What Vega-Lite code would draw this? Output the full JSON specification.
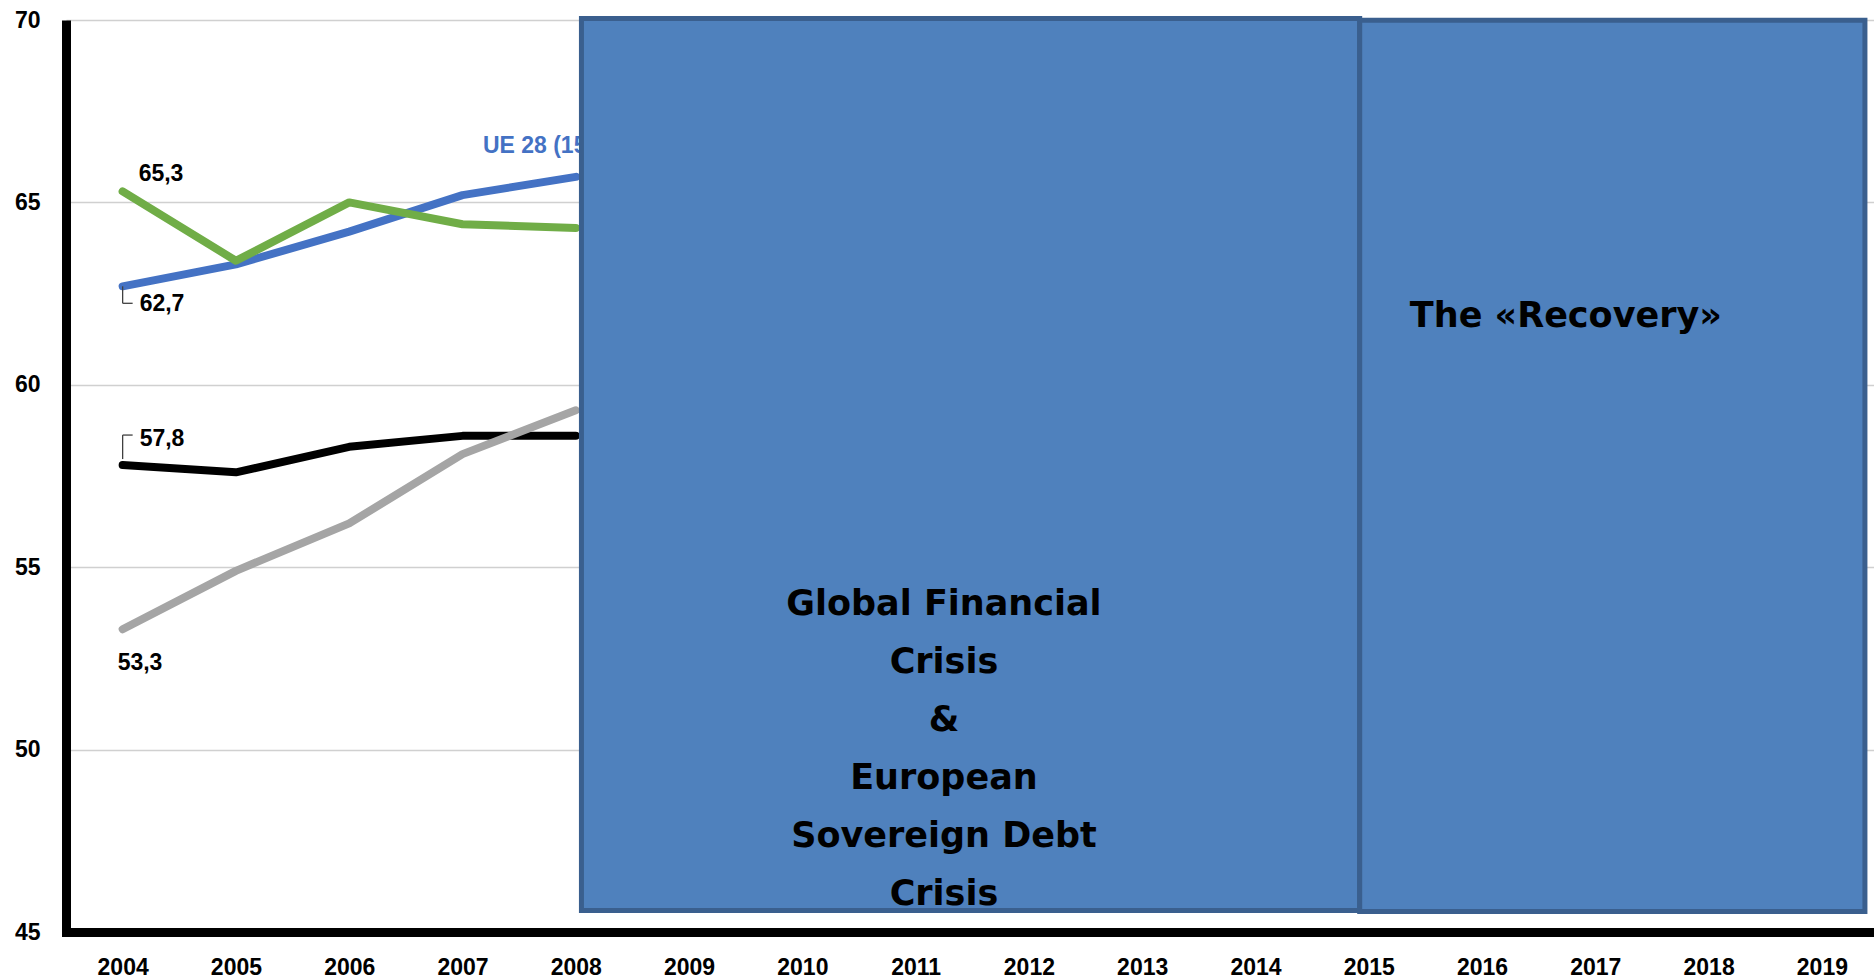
{
  "$schema": "https://vega.github.io/schema/vega-lite/v6.json",
  "width": 1808,
  "height": 912,
  "autosize": {"type": "none"},
  "padding": {"left": 66, "top": 20, "right": 0, "bottom": 48},
  "background": "white",
  "config": {
    "view": {"stroke": null},
    "font": "Liberation Sans",
    "locale": {"number": {"decimal": ",", "thousands": ".", "grouping": [3], "currency": ["", " €"]}}
  },
  "datasets": {
    "series": [
      {"series": "UE 28 (15-64)", "year": 2004, "value": 62.7},
      {"series": "UE 28 (15-64)", "year": 2005, "value": 63.3},
      {"series": "UE 28 (15-64)", "year": 2006, "value": 64.2},
      {"series": "UE 28 (15-64)", "year": 2007, "value": 65.2},
      {"series": "UE 28 (15-64)", "year": 2008, "value": 65.7},
      {"series": "Serie 2", "year": 2004, "value": 65.3},
      {"series": "Serie 2", "year": 2005, "value": 63.4},
      {"series": "Serie 2", "year": 2006, "value": 65.0},
      {"series": "Serie 2", "year": 2007, "value": 64.4},
      {"series": "Serie 2", "year": 2008, "value": 64.3},
      {"series": "Serie 3", "year": 2004, "value": 57.8},
      {"series": "Serie 3", "year": 2005, "value": 57.6},
      {"series": "Serie 3", "year": 2006, "value": 58.3},
      {"series": "Serie 3", "year": 2007, "value": 58.6},
      {"series": "Serie 3", "year": 2008, "value": 58.6},
      {"series": "Serie 4", "year": 2004, "value": 53.3},
      {"series": "Serie 4", "year": 2005, "value": 54.9},
      {"series": "Serie 4", "year": 2006, "value": 56.2},
      {"series": "Serie 4", "year": 2007, "value": 58.1},
      {"series": "Serie 4", "year": 2008, "value": 59.3}
    ],
    "periods": [
      {"period": "crisis", "start": 2008.05, "end": 2014.92, "top": 70.04, "bottom": 45.59},
      {"period": "recovery", "start": 2014.92, "end": 2019.38, "top": 69.99, "bottom": 45.56}
    ],
    "boxtext": [
      {"text": "Global Financial\nCrisis\n&\nEuropean\nSovereign Debt\nCrisis", "year": 2011.25, "value": 54.45},
      {"text": "The «Recovery»", "year": 2016.74, "value": 62.34}
    ],
    "notes": [
      {"text": "UE 28 (15-64)", "year": 2007.18, "value": 66.35}
    ]
  },
  "layer": [
    {
      "data": {"name": "series"},
      "mark": {"type": "line", "strokeWidth": 8, "strokeCap": "round", "strokeJoin": "round"},
      "encoding": {
        "x": {
          "field": "year", "type": "quantitative",
          "scale": {"domain": [2003.5, 2019.46], "nice": false, "zero": false},
          "axis": {
            "title": null, "values": [2004, 2005, 2006, 2007, 2008, 2009, 2010, 2011, 2012, 2013, 2014, 2015, 2016, 2017, 2018, 2019],
            "format": "d", "grid": false, "ticks": false, "tickSize": 0,
            "domainColor": "#000000", "domainWidth": 9, "domainCap": "square",
            "labelFont": "Liberation Sans", "labelFontWeight": "bold", "labelFontSize": 23, "labelColor": "#000000",
            "labelPadding": 24, "labelBaseline": "top", "labelFlush": false, "labelOverlap": false
          }
        },
        "y": {
          "field": "value", "type": "quantitative",
          "scale": {"domain": [45, 70], "nice": false, "zero": false},
          "axis": {
            "title": null, "values": [45, 50, 55, 60, 65, 70], "format": "d",
            "grid": true, "gridColor": "#D0D0D0", "gridWidth": 1.5,
            "ticks": false, "tickSize": 0,
            "domainColor": "#000000", "domainWidth": 9,
            "labelFont": "Liberation Sans", "labelFontWeight": "bold", "labelFontSize": 23, "labelColor": "#000000",
            "labelPadding": 26, "labelFlush": false, "labelOverlap": false
          }
        },
        "color": {
          "field": "series", "type": "nominal",
          "scale": {"domain": ["UE 28 (15-64)", "Serie 2", "Serie 3", "Serie 4"], "range": ["#4472C4", "#70AD47", "#000000", "#A5A5A5"]},
          "legend": null
        }
      }
    },
    {
      "data": {"name": "series"},
      "transform": [{"filter": "datum.year === 2004 && datum.series === 'Serie 2'"}],
      "mark": {"type": "text", "align": "left", "baseline": "alphabetic", "dx": 16, "dy": -10, "fontSize": 23, "fontWeight": "bold", "color": "#000000"},
      "encoding": {
        "x": {"field": "year", "type": "quantitative"},
        "y": {"field": "value", "type": "quantitative"},
        "text": {"field": "value", "type": "quantitative", "format": ".1f"}
      }
    },
    {
      "data": {"name": "series"},
      "transform": [{"filter": "datum.year === 2004 && datum.series === 'UE 28 (15-64)'"}],
      "mark": {"type": "text", "align": "left", "baseline": "alphabetic", "dx": 17, "dy": 25, "fontSize": 23, "fontWeight": "bold", "color": "#000000"},
      "encoding": {
        "x": {"field": "year", "type": "quantitative"},
        "y": {"field": "value", "type": "quantitative"},
        "text": {"field": "value", "type": "quantitative", "format": ".1f"}
      }
    },
    {
      "data": {"name": "series"},
      "transform": [{"filter": "datum.year === 2004 && datum.series === 'Serie 3'"}],
      "mark": {"type": "text", "align": "left", "baseline": "alphabetic", "dx": 17, "dy": -19, "fontSize": 23, "fontWeight": "bold", "color": "#000000"},
      "encoding": {
        "x": {"field": "year", "type": "quantitative"},
        "y": {"field": "value", "type": "quantitative"},
        "text": {"field": "value", "type": "quantitative", "format": ".1f"}
      }
    },
    {
      "data": {"name": "series"},
      "transform": [{"filter": "datum.year === 2004 && datum.series === 'Serie 4'"}],
      "mark": {"type": "text", "align": "left", "baseline": "alphabetic", "dx": -5, "dy": 41, "fontSize": 23, "fontWeight": "bold", "color": "#000000"},
      "encoding": {
        "x": {"field": "year", "type": "quantitative"},
        "y": {"field": "value", "type": "quantitative"},
        "text": {"field": "value", "type": "quantitative", "format": ".1f"}
      }
    },
    {
      "data": {"name": "series"},
      "transform": [{"filter": "datum.year === 2004 && datum.series === 'UE 28 (15-64)'"}],
      "mark": {"type": "rule", "color": "#404040", "strokeWidth": 1.3, "yOffset": 0, "y2Offset": 17},
      "encoding": {
        "x": {"field": "year", "type": "quantitative"},
        "y": {"field": "value", "type": "quantitative"},
        "y2": {"field": "value"}
      }
    },
    {
      "data": {"name": "series"},
      "transform": [{"filter": "datum.year === 2004 && datum.series === 'UE 28 (15-64)'"}],
      "mark": {"type": "rule", "color": "#404040", "strokeWidth": 1.3, "yOffset": 17, "x2Offset": 10},
      "encoding": {
        "x": {"field": "year", "type": "quantitative"},
        "x2": {"field": "year"},
        "y": {"field": "value", "type": "quantitative"}
      }
    },
    {
      "data": {"name": "series"},
      "transform": [{"filter": "datum.year === 2004 && datum.series === 'Serie 3'"}],
      "mark": {"type": "rule", "color": "#404040", "strokeWidth": 1.3, "yOffset": -6, "y2Offset": -30},
      "encoding": {
        "x": {"field": "year", "type": "quantitative"},
        "y": {"field": "value", "type": "quantitative"},
        "y2": {"field": "value"}
      }
    },
    {
      "data": {"name": "series"},
      "transform": [{"filter": "datum.year === 2004 && datum.series === 'Serie 3'"}],
      "mark": {"type": "rule", "color": "#404040", "strokeWidth": 1.3, "yOffset": -30, "x2Offset": 10},
      "encoding": {
        "x": {"field": "year", "type": "quantitative"},
        "x2": {"field": "year"},
        "y": {"field": "value", "type": "quantitative"}
      }
    },
    {
      "data": {"name": "notes"},
      "mark": {"type": "text", "align": "left", "baseline": "alphabetic", "fontSize": 23, "fontWeight": "bold", "color": "#4472C4"},
      "encoding": {
        "x": {"field": "year", "type": "quantitative"},
        "y": {"field": "value", "type": "quantitative"},
        "text": {"field": "text", "type": "nominal"}
      }
    },
    {
      "data": {"name": "periods"},
      "mark": {"type": "rect", "fill": "#4F81BD", "stroke": "#3A5F8E", "strokeWidth": 5},
      "encoding": {
        "x": {"field": "start", "type": "quantitative"},
        "x2": {"field": "end"},
        "y": {"field": "top", "type": "quantitative"},
        "y2": {"field": "bottom"}
      }
    },
    {
      "data": {"name": "boxtext"},
      "mark": {"type": "text", "align": "center", "baseline": "top", "lineBreak": "\n", "lineHeight": 58, "font": "DejaVu Sans", "fontSize": 35, "fontWeight": "bold", "color": "#000000"},
      "encoding": {
        "x": {"field": "year", "type": "quantitative"},
        "y": {"field": "value", "type": "quantitative"},
        "text": {"field": "text", "type": "nominal"}
      }
    }
  ]
}
